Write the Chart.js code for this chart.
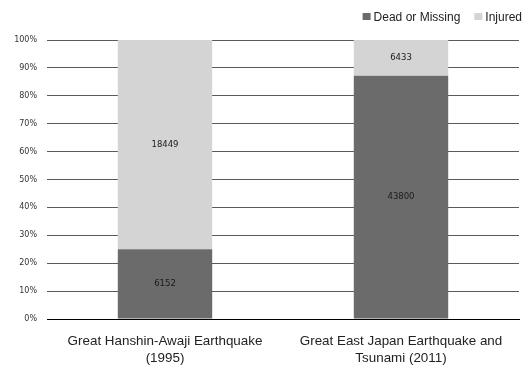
<!DOCTYPE html>
<html>
<head>
<meta charset="utf-8">
<script src="https://cdn.jsdelivr.net/npm/chart.js@4/dist/chart.umd.min.js"></script>
<style>
  html, body { margin: 0; padding: 0; background: #ffffff; }
  #wrap { width: 528px; height: 369px; position: relative; }
</style>
</head>
<body>
<div id="wrap"><canvas id="c" width="528" height="369"></canvas></div>
<script>
// Casualties of two major Japanese earthquakes, shown as shares of the total
const categories = [
  ['Great Hanshin-Awaji Earthquake', '(1995)'],
  ['Great East Japan Earthquake and', 'Tsunami (2011)']
];
const seriesNames = ['Dead or Missing', 'Injured'];
const deadOrMissing = [6152, 43800];
const injured = [18449, 6433];
const yTickLabels = ['0%', '10%', '20%', '30%', '40%', '50%', '60%', '70%', '80%', '90%', '100%'];

const SANS = '"Liberation Sans", Arial, sans-serif';

// each category's counts turned into percentages of its own total
const totals = deadOrMissing.map((d, i) => d + injured[i]);
const toShare = arr => arr.map((v, i) => v / totals[i] * 100);

const counts = [deadOrMissing, injured];

// writes each segment's count in the middle of its bar segment
const segmentLabels = {
  id: 'segmentLabels',
  afterDatasetsDraw(chart) {
    const ctx = chart.ctx;
    ctx.save();
    ctx.font = '8.5px "DejaVu Sans", sans-serif';
    ctx.fillStyle = '#1a1a1a';
    ctx.textAlign = 'center';
    ctx.textBaseline = 'middle';
    chart.data.datasets.forEach((ds, di) => {
      chart.getDatasetMeta(di).data.forEach((bar, j) => {
        const p = bar.getProps(['x', 'y', 'base'], true);
        ctx.fillText(String(counts[di][j]), p.x, (p.y + p.base) / 2);
      });
    });
    ctx.restore();
  }
};

// compact legend in the top-right corner, right-aligned
const cornerLegend = {
  id: 'cornerLegend',
  afterDraw(chart) {
    const ctx = chart.ctx;
    const right = 522, baseline = 20.5, box = 8, boxH = 7, boxGap = 3, itemGap = 14;
    ctx.save();
    ctx.font = '12px ' + SANS;
    ctx.textBaseline = 'alphabetic';
    ctx.textAlign = 'left';
    const items = chart.data.datasets.map(ds => ({
      text: ds.label, color: ds.backgroundColor, w: ctx.measureText(ds.label).width
    }));
    let total = 0;
    items.forEach((it, i) => { total += box + boxGap + it.w + (i ? itemGap : 0); });
    let x = right - total;
    items.forEach(it => {
      ctx.fillStyle = it.color;
      ctx.fillRect(x, 13, box, boxH);
      x += box + boxGap;
      ctx.fillStyle = '#222222';
      ctx.fillText(it.text, x, baseline);
      x += it.w + itemGap;
    });
    ctx.restore();
  }
};

new Chart(document.getElementById('c'), {
  type: 'bar',
  data: {
    labels: categories,
    datasets: [
      {
        label: seriesNames[0],
        data: toShare(deadOrMissing),
        backgroundColor: '#6b6b6b',
        borderWidth: 0,
        categoryPercentage: 1,
        barPercentage: 0.4
      },
      {
        label: seriesNames[1],
        data: toShare(injured),
        backgroundColor: '#d4d4d4',
        borderWidth: 0,
        categoryPercentage: 1,
        barPercentage: 0.4
      }
    ]
  },
  options: {
    responsive: false,
    animation: false,
    devicePixelRatio: 1,
    layout: { padding: { left: 0, right: 9, top: 40, bottom: 0 } },
    plugins: {
      tooltip: { enabled: false },
      legend: { display: false }
    },
    scales: {
      x: {
        stacked: true,
        grid: { display: false, drawTicks: false },
        border: { display: true, color: '#000000', width: 1 },
        ticks: {
          color: '#222222',
          padding: 14,
          maxRotation: 0,
          autoSkip: false,
          font: { family: SANS, size: 13.4, lineHeight: '17px' }
        },
        afterFit(scale) { scale.height = 50; }
      },
      y: {
        stacked: true,
        min: 0,
        max: 100,
        grid: {
          color: ctx => ctx.tick && ctx.tick.value === 0 ? '#000000' : '#5a5a5a',
          lineWidth: 1,
          drawTicks: false
        },
        border: { display: false },
        ticks: {
          stepSize: 10,
          padding: 10,
          color: '#333333',
          font: { family: '"DejaVu Sans", sans-serif', size: 8 },
          callback: (v, i) => yTickLabels[i]
        },
        afterFit(scale) { scale.width = 47; }
      }
    }
  },
  plugins: [segmentLabels, cornerLegend]
});
</script>
</body>
</html>
